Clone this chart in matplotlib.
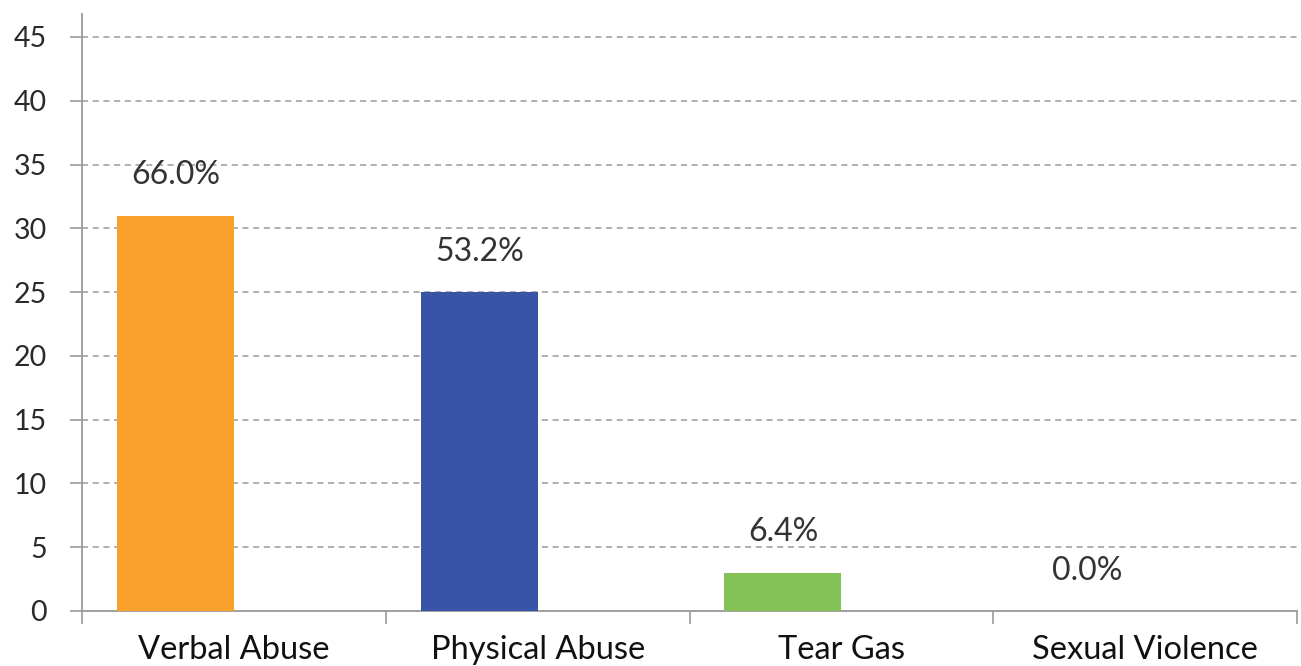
import matplotlib.pyplot as plt
import numpy as np

categories = ["Verbal Abuse", "Physical Abuse", "Tear Gas", "Sexual Violence"]
counts = [31, 25, 3, 0]
pct_labels = ["66.0%", "53.2%", "6.4%", "0.0%"]
colors = ["#F9A12A", "#3953A6", "#84C157", "#9E9E9E"]

plt.rcParams["font.family"] = ["Lato", "DejaVu Sans"]

fig = plt.figure(figsize=(13.01, 6.66), dpi=100)
ax = fig.add_axes([0.063, 0.0826, 0.934, 0.8964])

x = np.arange(len(categories))
bar_w = 0.385
bars = ax.bar(x - bar_w, counts, width=bar_w, align="edge", color=colors, zorder=3)

# percentage labels above the bars
for xi, val, lab in zip(x, counts, pct_labels):
    ax.annotate(lab, (xi - bar_w / 2, val), xytext=(0, 29), textcoords="offset points",
                ha="center", va="center", fontsize=23, color="#333333")

ax.set_xlim(-0.5, len(categories) - 0.5)
ax.set_ylim(0, 46.8)
ax.set_yticks(np.arange(0, 50, 5))
ax.yaxis.grid(True, linestyle=(0, (4, 3)), color="#9A9A9A", linewidth=1.1, zorder=0)

# separators as major ticks, names as minor ticks
ax.set_xticks(np.arange(-0.5, len(categories), 1))
ax.set_xticklabels([])
ax.set_xticks(x, minor=True)
ax.set_xticklabels(categories, minor=True, fontsize=23.5, color="#111111")
ax.tick_params(axis="x", which="major", length=9, color="#9A9A9A", width=1.2)
ax.tick_params(axis="x", which="minor", length=0, pad=17)
ax.tick_params(axis="y", length=9, color="#9A9A9A", width=1.2, labelsize=20.5,
               labelcolor="#2A2A2A", pad=16)

for side in ["top", "right"]:
    ax.spines[side].set_visible(False)
for side in ["left", "bottom"]:
    ax.spines[side].set_color("#9A9A9A")
    ax.spines[side].set_linewidth(1.3)

fig.savefig("out.png", dpi=100)
